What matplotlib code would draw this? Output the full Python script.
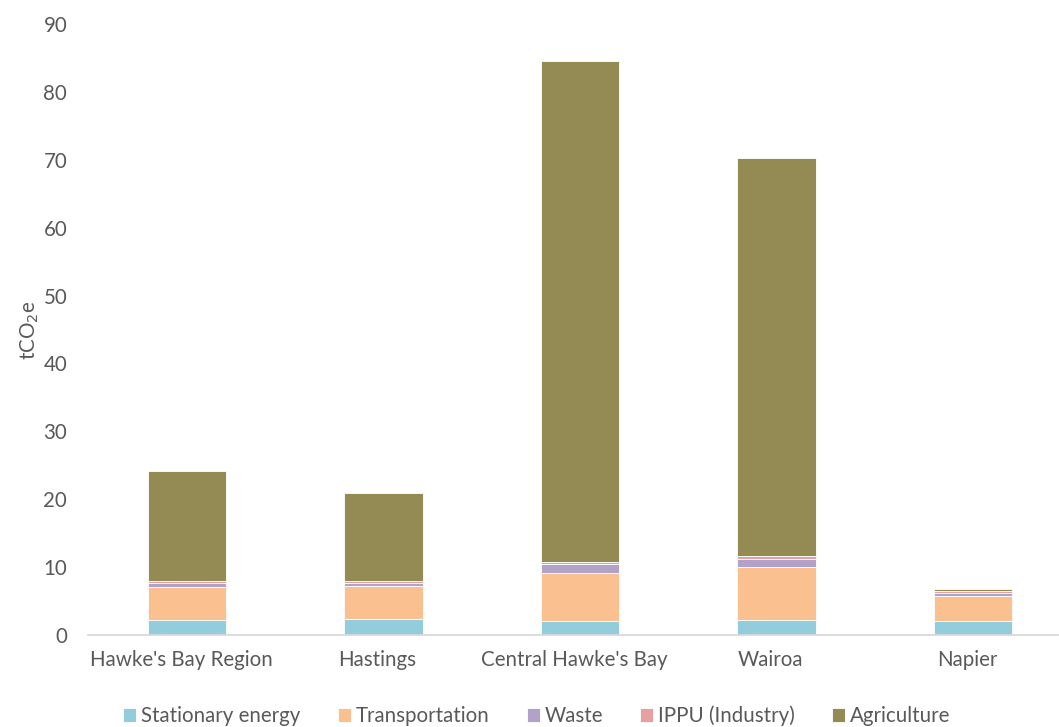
import numpy as np
import matplotlib.pyplot as plt
import matplotlib.transforms as mtransforms

plt.rcParams['font.family'] = ['Lato', 'DejaVu Sans']

# data
regions = ["Hawke's Bay Region", "Hastings", "Central Hawke's Bay", "Wairoa", "Napier"]
stationary = [2.25, 2.3, 2.05, 2.2, 2.1]
transport = [4.75, 4.9, 7.15, 7.75, 3.6]
waste = [0.65, 0.4, 1.25, 1.25, 0.5]
ippu = [0.25, 0.35, 0.35, 0.4, 0.25]
agriculture = [16.2, 12.9, 73.8, 58.7, 0.3]

series = [
    ("Stationary energy", stationary, "#93CDDD"),
    ("Transportation", transport, "#FAC090"),
    ("Waste", waste, "#B3A2C7"),
    ("IPPU (Industry)", ippu, "#E6A0A0"),
    ("Agriculture", agriculture, "#948A54"),
]
txt = "#595959"
fs = 14.8

fig = plt.figure(figsize=(10.59, 7.27), dpi=100)
ax = fig.add_axes([88 / 1059, 92 / 727, 970 / 1059, 611 / 727])

x = np.arange(len(regions))
bottom = np.zeros(len(regions))
for name, vals, col in series:
    ax.bar(x, vals, 0.4, bottom=bottom, color=col, label=name,
           edgecolor="white", linewidth=0.6)
    bottom += np.array(vals)

ax.set_xlim(-0.504, 4.433)
ax.set_ylim(0, 90)
ax.set_yticks(range(0, 91, 10))
ax.set_xticks(x)
ax.set_xticklabels(regions)
ax.tick_params(colors=txt, labelsize=fs, length=0)
ax.tick_params(axis="x", pad=11)
ax.tick_params(axis="y", pad=15)
# labels sit a touch left of the bars in the original
shift = mtransforms.ScaledTranslation(-6 / 100, 0, fig.dpi_scale_trans)
for lab in ax.get_xticklabels():
    lab.set_transform(lab.get_transform() + shift)

for s in ["top", "right", "left"]:
    ax.spines[s].set_visible(False)
ax.spines["bottom"].set_color("#D9D9D9")
ax.spines["bottom"].set_linewidth(1.3)

fig.text(30 / 1059, 1 - 330 / 727, "tCO$_2$e", rotation=90, color=txt,
         fontsize=fs, ha="center", va="center")

fig.legend(loc="center", bbox_to_anchor=(537 / 1059, 1 - 716 / 727), ncol=5,
           frameon=False, fontsize=fs, labelcolor=txt, handlelength=0.63,
           handleheight=0.63, handletextpad=0.25, columnspacing=1.8,
           borderpad=0, borderaxespad=0)

fig.savefig("out.png", dpi=100)
